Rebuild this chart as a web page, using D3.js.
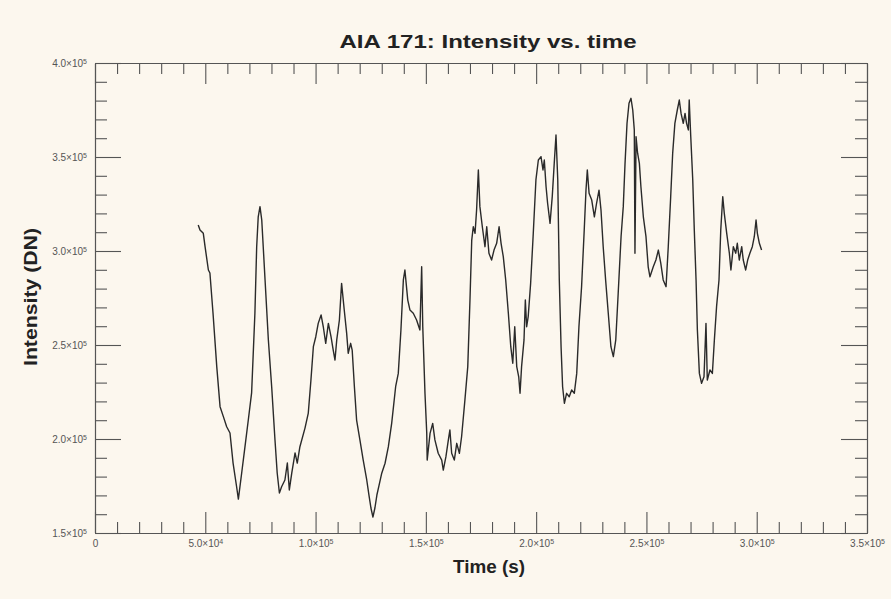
<!DOCTYPE html>
<html>
<head>
<meta charset="utf-8">
<script src="https://cdnjs.cloudflare.com/ajax/libs/d3/7.8.5/d3.min.js"></script>
<style>
  html, body { margin: 0; padding: 0; background: #fcf7ee; }
  svg { display: block; font-family: "Liberation Sans", Arial, sans-serif; }
  .axis path, .axis line { stroke: #555; stroke-width: 1.1; }
  .axis text { fill: #555; font-size: 10px; }
</style>
</head>
<body>
<div id="chart"></div>
<script>
const W = 891;
const H = 599;
const MARGIN = { TOP: 63, RIGHT: 24, BOTTOM: 66, LEFT: 95 };
const WIDTH = W - MARGIN.LEFT - MARGIN.RIGHT;
const HEIGHT = H - MARGIN.TOP - MARGIN.BOTTOM;

const TITLE = "AIA 171: Intensity vs. time";
const X_LABEL = "Time (s)";
const Y_LABEL = "Intensity (DN)";

const xMajorTicks = [0, 50000, 100000, 150000, 200000, 250000, 300000, 350000];
const yMajorTicks = [150000, 200000, 250000, 300000, 350000, 400000];

// time (s)
const timeSec = [
  46800, 47600, 49100, 49900, 51400, 52100, 53500, 55200, 56700, 58200,
  59700, 61200, 62600, 64200, 65000, 66500, 68000, 69500, 71000, 72500,
  73300, 74000, 74800, 75600, 77100, 78600, 80100, 81600, 82600, 83600,
  84600, 86100, 87200, 88100, 89200, 90700, 91700, 92900, 95200, 96700,
  97900, 99000, 100100, 101200, 102500, 103500, 104600, 105800, 107000, 108000,
  108800, 109600, 110800, 111800, 113000, 114100, 114800, 115900, 116600, 117600,
  118600, 120100, 121600, 123200, 124200, 125100, 126000, 126900, 127800, 128800,
  130000, 131500, 133000, 134500, 136300, 137500, 138700, 139800, 140500, 141800,
  142800, 144300, 145800, 147300, 148100, 148600, 149600, 150400, 150600, 151900,
  153100, 154100, 155600, 157200, 157900, 159100, 160200, 160900, 161700, 162900,
  164000, 165200, 166200, 167700, 169000, 170000, 170800, 171500, 172300, 173000,
  173800, 174500, 175600, 176800, 177600, 178600, 179800, 180900, 182100, 183200,
  184100, 185100, 186200, 187400, 188500, 189400, 190300, 191200, 192100, 192700,
  193400, 194500, 195100, 195700, 196400, 197500, 198700, 199900, 201000, 202200,
  203100, 203700, 204500, 205200, 206300, 207300, 208200, 209000, 209800, 210500,
  211300, 212000, 212800, 213800, 215000, 216100, 217300, 218400, 219400, 220600,
  221800, 222600, 223200, 224000, 225200, 226400, 227400, 228500, 229400, 230400,
  231500, 232700, 233900, 235000, 236100, 237200, 238500, 239500, 240300, 241200,
  242100, 243000, 243800, 244500, 244800, 245300, 246000, 246800, 247500, 248600,
  249800, 250800, 251600, 253100, 254300, 255400, 256500, 257600, 258900, 259900,
  261000, 261900, 262900, 264000, 264900, 265700, 266700, 267500, 268200, 269000,
  269400, 270100, 271000, 271700, 272500, 273100, 274000, 275000, 276100, 277000,
  277600, 278800, 279900, 280800, 281800, 282900, 283700, 284600, 285300, 286400,
  287600, 288300, 289400, 290500, 291200, 292100, 293200, 293900, 295000, 295900,
  296900, 298000, 298900, 299700, 300300, 301200, 302200
];

// intensity (DN)
const intensityDN = [
  313800, 311200, 309400, 302300, 289900, 288300, 267000, 238500, 217200, 211900,
  206500, 203200, 187200, 174600, 168000, 181900, 195900, 210100, 224500, 267000,
  302300, 318200, 323600, 316500, 284600, 252700, 227800, 199500, 181900, 171300,
  174600, 178200, 187200, 172900, 181900, 192600, 187200, 195900, 205800, 213800,
  231400, 249100, 254400, 261500, 266000, 259700, 250900, 261500, 254400, 247300,
  242000, 252700, 263300, 282800, 268600, 256200, 245600, 250900, 247300, 227800,
  210100, 199500, 188800, 178200, 170200, 163300, 158500, 163300, 170200, 175500,
  181800, 187100, 195900, 208300, 227800, 234900, 258000, 284600, 289900, 273900,
  268600, 266900, 263300, 258000, 291600, 259700, 224300, 203200, 188800, 203000,
  208300, 199500, 192400, 188800, 183500, 190600, 199500, 204800, 192400, 188800,
  197700, 192400, 201200, 220700, 238500, 273900, 305800, 312900, 309400, 321800,
  343100, 323600, 312900, 302300, 312900, 298800, 295200, 300500, 304100, 312900,
  304100, 297000, 284600, 266900, 249100, 240300, 259700, 238500, 233100, 224300,
  238500, 252700, 273900, 259700, 265100, 282800, 309400, 337800, 348400, 350200,
  343100, 348400, 334200, 325400, 314700, 328900, 346600, 361700, 337800, 284600,
  249100, 227800, 219000, 224300, 222500, 226100, 224300, 234900, 259700, 281000,
  311200, 332400, 343100, 330700, 327100, 318200, 325400, 332400, 321800, 302300,
  284600, 266900, 249100, 243800, 252700, 277500, 307600, 323600, 346600, 367900,
  378600, 381200, 375000, 364400, 298800, 360800, 352000, 346600, 334200, 318200,
  307600, 291600, 286300, 291600, 295200, 300500, 293500, 284600, 281000, 302300,
  328900, 352000, 367900, 375000, 380300, 373200, 367900, 373200, 367900, 364400,
  380300, 360800, 337800, 311200, 284600, 258000, 234900, 229600, 233100, 261500,
  231400, 236700, 234900, 252700, 270400, 284600, 311200, 328900, 320000, 309400,
  298800, 289900, 302300, 298800, 304100, 295200, 302300, 295200, 289900, 295200,
  298800, 302300, 307600, 316500, 309400, 304100, 300500
];

const series = timeSec.map((t, i) => ({ t: t, v: intensityDN[i] }));

const xMinorTicks = d3.range(0, 350001, 10000).filter(d => d % 50000 !== 0);
const yMinorTicks = d3.range(150000, 400001, 10000).filter(d => d % 50000 !== 0);

const x = d3.scaleLinear().domain([0, 350000]).range([0, WIDTH]);
const y = d3.scaleLinear().domain([150000, 400000]).range([HEIGHT, 0]);

function fmtTick(text) {
  text.each(function (d) {
    const el = d3.select(this);
    el.text(null);
    if (d === 0) { el.text("0"); return; }
    const e = Math.floor(Math.log10(d));
    const m = (d / Math.pow(10, e)).toFixed(1);
    el.append("tspan").text(m + "\u00d710");
    el.append("tspan").attr("dy", "-0.45em").attr("font-size", "7px").text(e);
  });
}

const svg = d3.select("#chart")
  .append("svg")
  .attr("width", W)
  .attr("height", H);

svg.append("rect")
  .attr("width", W)
  .attr("height", H)
  .attr("fill", "#fcf7ee");

const g = svg.append("g")
  .attr("transform", `translate(${MARGIN.LEFT}, ${MARGIN.TOP})`);

// minor ticks, all four sides
g.append("g").attr("class", "axis")
  .attr("transform", `translate(0,${HEIGHT})`)
  .call(d3.axisBottom(x).tickValues(xMinorTicks).tickSize(-11).tickSizeOuter(0).tickFormat(""));
g.append("g").attr("class", "axis")
  .call(d3.axisTop(x).tickValues(xMinorTicks).tickSize(-11).tickSizeOuter(0).tickFormat(""));
g.append("g").attr("class", "axis")
  .call(d3.axisLeft(y).tickValues(yMinorTicks).tickSize(-12).tickSizeOuter(0).tickFormat(""));
g.append("g").attr("class", "axis")
  .attr("transform", `translate(${WIDTH},0)`)
  .call(d3.axisRight(y).tickValues(yMinorTicks).tickSize(-12).tickSizeOuter(0).tickFormat(""));

// major ticks
g.append("g").attr("class", "axis")
  .attr("transform", `translate(0,${HEIGHT})`)
  .call(d3.axisBottom(x).tickValues(xMajorTicks).tickSize(-21).tickSizeOuter(0).tickPadding(7))
  .selectAll("text").call(fmtTick);
g.append("g").attr("class", "axis")
  .call(d3.axisTop(x).tickValues(xMajorTicks).tickSize(-21).tickSizeOuter(0).tickFormat(""));
g.append("g").attr("class", "axis")
  .call(d3.axisLeft(y).tickValues(yMajorTicks).tickSize(-26).tickSizeOuter(0).tickPadding(8))
  .selectAll("text").call(fmtTick);
g.append("g").attr("class", "axis")
  .attr("transform", `translate(${WIDTH},0)`)
  .call(d3.axisRight(y).tickValues(yMajorTicks).tickSize(-26).tickSizeOuter(0).tickFormat(""));

const line = d3.line()
  .x(d => x(d.t))
  .y(d => y(d.v));

g.append("path")
  .datum(series)
  .attr("fill", "none")
  .attr("stroke", "#2a2a2a")
  .attr("stroke-width", 1.4)
  .attr("stroke-linejoin", "round")
  .attr("d", line);

// titles
svg.append("text")
  .attr("x", 488)
  .attr("y", 48)
  .attr("text-anchor", "middle")
  .attr("font-size", 19)
  .attr("font-weight", "bold")
  .attr("fill", "#222")
  .attr("textLength", 297)
  .attr("lengthAdjust", "spacingAndGlyphs")
  .text(TITLE);

svg.append("text")
  .attr("x", 489)
  .attr("y", 573)
  .attr("text-anchor", "middle")
  .attr("font-size", 18)
  .attr("font-weight", "bold")
  .attr("fill", "#222")
  .attr("textLength", 72)
  .attr("lengthAdjust", "spacingAndGlyphs")
  .text(X_LABEL);

svg.append("text")
  .attr("transform", "translate(37, 297) rotate(-90)")
  .attr("text-anchor", "middle")
  .attr("font-size", 18)
  .attr("font-weight", "bold")
  .attr("fill", "#222")
  .attr("textLength", 138)
  .attr("lengthAdjust", "spacingAndGlyphs")
  .text(Y_LABEL);
</script>
</body>
</html>
